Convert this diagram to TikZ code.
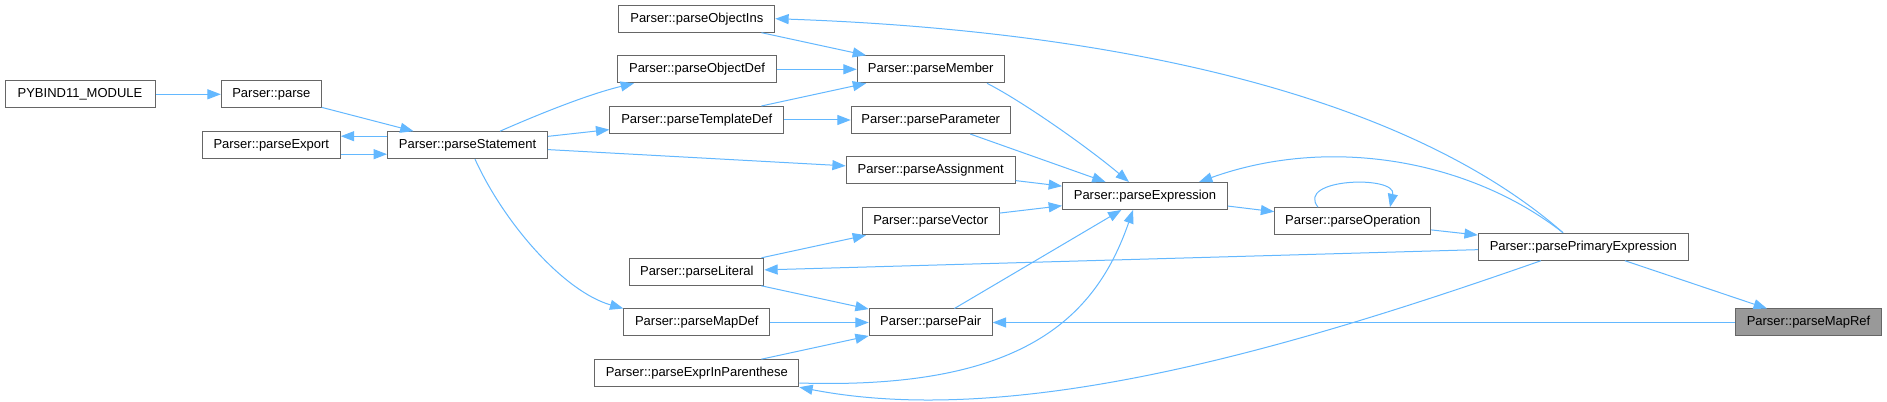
\documentclass[tikz,border=0pt]{standalone}
\usepackage{fontspec}
\setmainfont{Liberation Sans}
\usetikzlibrary{arrows.meta}
\definecolor{edgeblue}{HTML}{63B8FF}
\definecolor{boxgray}{HTML}{666666}
\definecolor{rootfill}{HTML}{999999}
\begin{document}
\begin{tikzpicture}[x=0.75pt,y=-0.75pt,
  fn/.style={draw=boxgray,line width=0.75pt,fill=white,minimum height=20.25pt,inner sep=0pt,font=\fontsize{9.75}{11}\selectfont,text=black},
  rootfn/.style={fn,fill=rootfill},
  calls/.style={draw=edgeblue,line width=0.75pt,-{Triangle[length=10pt,width=7.5pt]}}]
\fill[white] (0,0) rectangle (1887,402);
\useasboundingbox (0,0) rectangle (1887,402);
% nodes
\node[fn,minimum width=112.5pt] (pyb) at (80,94.3) {PYBIND11\_MODULE};
\node[fn,minimum width=75pt] (parse) at (271.3,94.3) {Parser::parse};
\node[fn,minimum width=103.5pt] (exp) at (271.3,145.2) {Parser::parseExport};
\node[fn,minimum width=120pt] (stmt) at (467.5,145.2) {Parser::parseStatement};
\node[fn,minimum width=117pt] (oins) at (696.8,18.7) {Parser::parseObjectIns};
\node[fn,minimum width=119.25pt] (odef) at (697,69.3) {Parser::parseObjectDef};
\node[fn,minimum width=130.5pt] (tdef) at (696.8,120) {Parser::parseTemplateDef};
\node[fn,minimum width=100.5pt] (lit) at (696.8,271.8) {Parser::parseLiteral};
\node[fn,minimum width=109.5pt] (mdef) at (696.8,322.5) {Parser::parseMapDef};
\node[fn,minimum width=153pt] (epar) at (696.8,373.2) {Parser::parseExprInParenthese};
\node[fn,minimum width=110.25pt] (mem) at (930.7,69.3) {Parser::parseMember};
\node[fn,minimum width=119.25pt] (par) at (930.7,120) {Parser::parseParameter};
\node[fn,minimum width=126.75pt] (asg) at (930.7,170.5) {Parser::parseAssignment};
\node[fn,minimum width=102.75pt] (vec) at (930.7,221.2) {Parser::parseVector};
\node[fn,minimum width=92.25pt] (pair) at (930.7,322.5) {Parser::parsePair};
\node[fn,minimum width=123.75pt] (expr) at (1145,196) {Parser::parseExpression};
\node[fn,minimum width=117pt] (oper) at (1352.7,221.2) {Parser::parseOperation};
\node[fn,minimum width=157.5pt] (prim) at (1583.3,246.7) {Parser::parsePrimaryExpression};
\node[rootfn,minimum width=109.5pt] (mref) at (1808.5,322.5) {Parser::parseMapRef};
% straight connectors
\draw[calls] (pyb) -- (parse);
\draw[calls] (parse) -- (stmt);
\draw[calls] ([yshift=6.75pt]stmt.west) -- ([yshift=6.75pt]exp.east);
\draw[calls] ([yshift=-6.75pt]exp.east) -- ([yshift=-6.75pt]stmt.west);
\draw[calls] (stmt) -- (tdef);
\draw[calls] (stmt) -- (asg);
\draw[calls] (oins) -- (mem);
\draw[calls] (odef) -- (mem);
\draw[calls] (tdef) -- (mem);
\draw[calls] (tdef) -- (par);
\draw[calls] (par) -- (expr);
\draw[calls] (asg) -- (expr);
\draw[calls] (vec) -- (expr);
\draw[calls] (expr) -- (oper);
\draw[calls] (oper) -- (prim);
\draw[calls] (prim) -- (lit);
\draw[calls] (prim) -- (mref);
\draw[calls] (mref) -- (pair);
\draw[calls] (lit) -- (vec);
\draw[calls] (lit) -- (pair);
\draw[calls] (mdef) -- (pair);
\draw[calls] (epar) -- (pair);
\draw[calls] (pair) -- (expr);
% curved connectors
\draw[calls] (stmt.north -| 500,0) .. controls (530,118) and (585,95) .. (odef.south -| 634,0);
\draw[calls] (stmt.south -| 475,0) .. controls (505,225) and (565,292) .. (mdef.north west);
\draw[calls] (mem.south -| 987,0) .. controls (1020,100) and (1085,145) .. (expr.north -| 1129,0);
\draw[calls] (prim.north -| 1563,0) .. controls (1470,160) and (1330,135) .. (expr.north -| 1199,0);
\draw[calls] (prim.north -| 1563,0) .. controls (1400,90) and (1100,30) .. (oins.east);
\draw[calls] (prim.south -| 1541,0) .. controls (1300,345) and (1020,430) .. (epar.south east);
\draw[calls] (epar.east |- 0,383) .. controls (1020,390) and (1095,320) .. (expr.south -| 1133,0);
\draw[calls] (oper.north -| 1318,0) .. controls (1295,178) and (1397,175) .. (oper.north -| 1390,0);
\end{tikzpicture}
\end{document}
